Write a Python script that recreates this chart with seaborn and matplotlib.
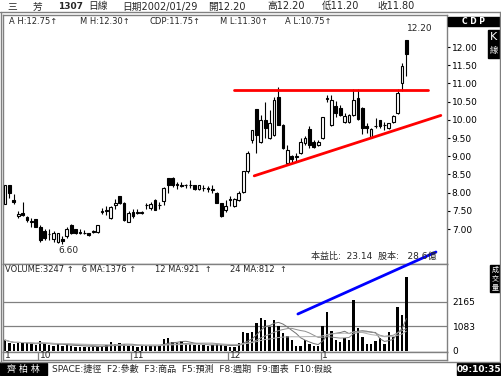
import numpy as np
import pandas as pd
import matplotlib
matplotlib.use("Agg")
import matplotlib.pyplot as plt
import seaborn as sns

sns.set_theme(style="white")
plt.rcParams['font.family'] = ['DejaVu Sans', 'Noto Sans CJK TC']

# ---------------- data ----------------
opens = [7.70, 8.20, 7.80, 7.35, 7.45, 7.32, 7.20, 7.28, 7.05, 6.95,
         6.85, 6.72, 6.65, 6.72, 6.80, 7.10, 7.00, 6.90, 6.88, 6.88,
         6.92, 6.92, 7.48, 7.50, 7.30, 7.65, 7.90, 7.72, 7.20, 7.48,
         7.45, 7.45, 7.65, 7.57, 7.80, 7.65, 7.78, 8.40, 8.40, 8.22,
         8.22, 8.20, 8.20, 8.20, 8.10, 8.12, 8.10, 8.08, 8.00, 7.72,
         7.52, 7.80, 7.62, 7.80, 8.02, 8.58, 9.45, 10.30, 9.38, 10.00,
         9.50, 9.58, 10.63, 9.86, 8.82, 9.00, 8.98, 9.08, 9.35, 9.74,
         9.38, 9.32, 9.50, 10.58, 9.86, 10.38, 10.33, 9.95, 9.95, 10.12,
         10.60, 10.32, 9.82, 9.52, 9.82, 9.99, 9.85, 9.78, 9.95, 10.18,
         11.00, 12.20]
highs = [8.20, 8.20, 7.95, 7.50, 7.75, 7.35, 7.30, 7.28, 7.10, 7.00,
         7.00, 6.95, 6.90, 6.80, 7.05, 7.15, 7.00, 7.00, 6.98, 6.90,
         6.98, 7.12, 7.58, 7.62, 7.62, 7.82, 7.92, 7.75, 7.50, 7.55,
         7.55, 7.50, 7.72, 7.75, 7.82, 7.75, 8.15, 8.40, 8.42, 8.30,
         8.28, 8.25, 8.35, 8.22, 8.22, 8.20, 8.18, 8.20, 8.02, 7.72,
         7.80, 7.92, 7.85, 8.05, 8.60, 9.15, 9.72, 10.30, 10.12, 10.50,
         10.28, 10.62, 10.90, 9.88, 9.30, 9.02, 9.08, 9.50, 9.55, 9.82,
         9.45, 9.45, 10.08, 10.68, 10.68, 10.52, 10.40, 10.20, 10.15, 10.85,
         10.85, 10.35, 9.90, 9.78, 10.05, 10.00, 9.95, 9.92, 10.12, 10.85,
         11.55, 12.20]
lows = [7.70, 7.85, 7.70, 7.30, 7.35, 7.20, 7.05, 7.05, 6.65, 6.70,
        6.70, 6.65, 6.62, 6.60, 6.75, 6.85, 6.85, 6.85, 6.85, 6.82,
        6.88, 6.90, 7.40, 7.38, 7.28, 7.55, 7.70, 7.22, 7.18, 7.30,
        7.40, 7.40, 7.55, 7.52, 7.52, 7.55, 7.65, 7.98, 8.15, 8.10,
        8.15, 8.12, 8.12, 8.08, 8.08, 8.05, 8.02, 8.00, 7.72, 7.32,
        7.48, 7.62, 7.60, 7.78, 8.00, 8.55, 9.35, 9.08, 9.35, 9.50,
        9.48, 9.55, 9.85, 9.20, 8.80, 8.80, 8.85, 9.05, 9.30, 9.22,
        9.22, 9.28, 9.48, 10.50, 9.82, 10.09, 10.10, 9.92, 9.92, 10.10,
        10.00, 9.60, 9.65, 9.50, 9.78, 9.78, 9.72, 9.75, 9.92, 10.15,
        10.80, 11.20]
closes = [8.20, 8.00, 7.75, 7.40, 7.38, 7.25, 7.20, 7.05, 6.70, 6.75,
          6.85, 6.90, 6.88, 6.68, 7.00, 6.88, 6.88, 6.90, 6.88, 6.84,
          6.92, 7.10, 7.48, 7.52, 7.60, 7.72, 7.72, 7.25, 7.45, 7.35,
          7.45, 7.45, 7.65, 7.70, 7.52, 7.65, 8.12, 8.20, 8.20, 8.22,
          8.18, 8.20, 8.20, 8.10, 8.20, 8.12, 8.10, 8.08, 7.72, 7.35,
          7.62, 7.80, 7.82, 8.00, 8.58, 9.10, 9.72, 9.58, 10.00, 9.78,
          9.90, 10.54, 9.86, 9.22, 9.18, 8.92, 8.98, 9.40, 9.50, 9.31,
          9.26, 9.40, 10.07, 10.58, 10.54, 10.18, 10.13, 10.10, 10.12, 10.55,
          10.02, 9.78, 9.77, 9.75, 9.82, 9.83, 9.85, 9.90, 10.10, 10.75,
          11.48, 11.80]
volumes = [470, 350, 280, 370, 320, 320, 280, 250, 430, 320,
           250, 220, 280, 220, 280, 220, 180, 180, 180, 180,
           180, 180, 220, 250, 370, 280, 320, 280, 220, 220,
           180, 220, 220, 220, 220, 250, 510, 540, 370, 320,
           430, 320, 280, 250, 250, 250, 220, 250, 280, 250,
           220, 180, 180, 320, 840, 760, 840, 1200, 1420, 1350,
           1060, 1350, 1100, 760, 660, 470, 220, 220, 470, 280,
           220, 220, 1100, 1720, 870, 470, 400, 570, 470, 2230,
           980, 620, 280, 280, 430, 570, 280, 810, 620, 1940,
           1570, 3247]
price_ticks = [7.00, 7.50, 8.00, 8.50, 9.00, 9.50, 10.00, 10.50, 11.00, 11.50, 12.00]
vol_ticks = [0, 1083, 2165]
month_labels = ['1', '10', '11', '12', '1']
month_starts = [0, 8, 29, 51, 72]
resistance = 10.82
support_x = [56.5, 98.8]
support_y = [8.46, 10.12]
trend_x = [66.4, 97.7]
trend_v = [1615, 4343]

df = pd.DataFrame({'i': np.arange(len(opens)), 'open': opens, 'high': highs,
                   'low': lows, 'close': closes, 'volume': volumes})
df['ma6'] = df['volume'].rolling(6, min_periods=1).mean()
df['ma12'] = df['volume'].rolling(12, min_periods=1).mean()
df['ma24'] = df['volume'].rolling(24, min_periods=1).mean()

# ---------------- figure ----------------
W, H = 502, 376
fig = plt.figure(figsize=(W / 100, H / 100), dpi=100)
fig.patch.set_facecolor('white')


def box(x0, y0, x1, y1):
    return [x0 / W, 1 - y1 / H, (x1 - x0) / W, (y1 - y0) / H]


def T(x, y, s, **kw):
    kw.setdefault('fontsize', 6.5)
    kw.setdefault('va', 'center')
    kw.setdefault('ha', 'left')
    fig.text(x / W, 1 - y / H, s, **kw)


def rect(x0, y0, x1, y1, **kw):
    fig.patches.append(plt.Rectangle((x0 / W, 1 - y1 / H), (x1 - x0) / W, (y1 - y0) / H,
                                     transform=fig.transFigure, figure=fig, **kw))


def fline(xs, ys, **kw):
    fig.add_artist(plt.Line2D([x / W for x in xs], [1 - y / H for y in ys],
                              transform=fig.transFigure, **kw))


XL = (-0.45, 100.2)
GRAY = '#808080'

# --- price panel ---
ax = fig.add_axes(box(3, 15, 447, 264))
ax.set_facecolor('white')
up = df['close'] >= df['open']
ax.vlines(df['i'], df['low'], df['high'], color='black', lw=0.8, zorder=2)
bottom = np.minimum(df['open'], df['close'])
height = np.maximum(np.abs(df['close'] - df['open']), 0.015)
ax.bar(df['i'][up], height[up], bottom=bottom[up], width=0.62,
       facecolor='white', edgecolor='black', lw=0.8, zorder=3)
ax.bar(df['i'][~up], height[~up], bottom=bottom[~up], width=0.62,
       facecolor='black', edgecolor='black', lw=0.8, zorder=3)
ax.plot([51.9, 95.8], [resistance, resistance], color='#ff0000', lw=2, zorder=4)
ax.plot(support_x, support_y, color='#ff0000', lw=2, zorder=4)
ax.set_xlim(*XL)
ax.set_ylim(12 - (264 - 47) / 36.4, 12 - (15 - 47) / 36.4)
ax.set_xticks([])
ax.yaxis.tick_right()
ax.set_yticks(price_ticks)
ax.set_yticklabels([f'{p:.2f}' for p in price_ticks], fontsize=6.5)
ax.tick_params(axis='y', length=2, width=0.8, pad=1.5, colors='black', direction='out')
for s in ax.spines.values():
    s.set_color(GRAY)
    s.set_linewidth(1)
ax.text(df['i'].iloc[-1] + 0.2, 12.20 + 0.18, '12.20', fontsize=6.5, ha='left', va='bottom')
ax.text(12.0, 6.60 - 0.08, '6.60', fontsize=6.5, ha='left', va='top')

# --- volume panel ---
axv = fig.add_axes(box(3, 264, 447, 352))
axv.set_facecolor('white')
for v in vol_ticks[1:]:
    axv.axhline(v, color=GRAY, lw=0.9, zorder=0)
sns.barplot(data=df, x='i', y='volume', native_scale=True, width=0.55,
            color='black', saturation=1, linewidth=0, ax=axv, zorder=2)
sns.lineplot(data=df, x='i', y='ma6', ax=axv, color='#707070', lw=0.7, zorder=3)
sns.lineplot(data=df, x='i', y='ma12', ax=axv, color='#909090', lw=0.7, zorder=3)
sns.lineplot(data=df, x='i', y='ma24', ax=axv, color='#b0b0b0', lw=0.7, zorder=3)
axv.plot(trend_x, trend_v, color='#0000ff', lw=2, zorder=6, clip_on=False)
axv.set_xlim(*XL)
axv.set_ylim(-57, 3815)
axv.set_xlabel('')
axv.set_ylabel('')
axv.set_xticks([])
axv.yaxis.tick_right()
axv.set_yticks(vol_ticks)
axv.set_yticklabels([str(v) for v in vol_ticks], fontsize=6.5)
axv.tick_params(axis='y', length=0, pad=4, colors='black')
for s in axv.spines.values():
    s.set_color(GRAY)
    s.set_linewidth(1)

# --- date strip ---
axd = fig.add_axes(box(3, 352, 447, 360))
axd.set_xlim(*XL)
axd.set_ylim(0, 1)
axd.set_xticks([])
axd.set_yticks([])
for s in axd.spines.values():
    s.set_color(GRAY)
    s.set_linewidth(1)
for m, lab in zip(month_starts, month_labels):
    if m > 0:
        axd.axvline(m - 0.45, color=GRAY, lw=0.9)
        axd.text(m - 0.1, 0.5, lab, fontsize=6.5, va='center', ha='left')
    else:
        axd.text(0.0, 0.5, lab, fontsize=6.5, va='center', ha='left')

# --- chrome ---
fline([0, 502], [12, 12], color=GRAY, lw=1)
fline([500, 500], [12, 362], color=GRAY, lw=1)
fline([0, 502], [362, 362], color=GRAY, lw=1)
fline([1, 1], [12, 362], color=GRAY, lw=1)

# title row
T(7, 6.5, '三', fontsize=7)
T(33, 6.5, '芳', fontsize=7)
T(58, 6.5, '1307', fontsize=6.5, fontweight='bold')
T(88, 6.5, '日線', fontsize=7)
T(122, 6.5, '日期2002/01/29', fontsize=7)
T(208, 6.5, '開12.20', fontsize=7)
T(267, 6.5, '高12.20', fontsize=7)
T(322, 6.5, '低11.20', fontsize=7)
T(377, 6.5, '收11.80', fontsize=7)

# info row
T(9, 22, 'A H:12.75↑', fontsize=6)
T(80, 22, 'M H:12.30↑', fontsize=6)
T(150, 22, 'CDP:11.75↑', fontsize=6)
T(220, 22, 'M L:11.30↑', fontsize=6)
T(285, 22, 'A L:10.75↑', fontsize=6)

# right column boxes
rect(448, 17, 500, 26, color='black')
T(474, 21.5, 'C D P', fontsize=5.5, color='white', ha='center', fontweight='bold')
rect(488, 30, 500, 58, color='black')
T(494, 37, 'K', fontsize=8, color='white', ha='center')
T(494, 51, '線', fontsize=6, color='white', ha='center')
rect(490, 265, 500, 292, color='black')
for k, ch in enumerate('成交量'):
    T(495, 269.5 + k * 8.5, ch, fontsize=5, color='white', ha='center')

# pe line
T(311, 256, '本益比:  23.14  股本:   28.6億', fontsize=6.5)

# volume info row
T(5, 269, 'VOLUME:3247 ↑   6 MA:1376 ↑', fontsize=6)
T(155, 269, '12 MA:921  ↑', fontsize=6)
T(230, 269, '24 MA:812  ↑', fontsize=6)

# status bar
rect(0, 363, 47, 375, color='black')
T(23.5, 369, '齊 柏 林', fontsize=6.5, color='white', ha='center')
T(52, 369, 'SPACE:捷徑  F2:參數  F3:商品  F5:預測  F8:週期  F9:圖表  F10:假設', fontsize=6.5)
rect(457, 363, 500, 375, color='black')
T(478.5, 369, '09:10:35', fontsize=6.5, color='white', ha='center', fontweight='bold')

fig.savefig('out.png', dpi=100, facecolor='white')
